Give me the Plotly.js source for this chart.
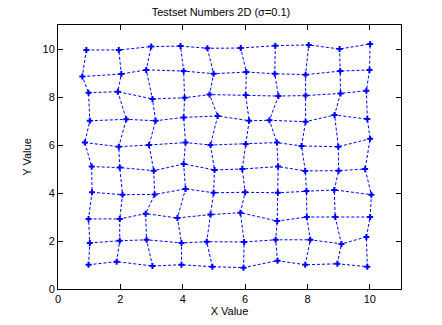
<!DOCTYPE html>
<html><head><meta charset="utf-8">
<script src="https://cdn.plot.ly/plotly-3.0.1.min.js"></script>
<style>html,body{margin:0;padding:0;background:#fff}#c{width:442px;height:325px}</style>
</head><body><div id="c"></div>
<script>
// Grid points, row by row (bottom row first), x and y coordinates
const xRows = [
  [0.98, 1.88, 3.03, 3.96, 4.95, 5.95, 7.04, 7.93, 8.96, 9.92],
  [1.02, 1.98, 2.84, 3.96, 4.77, 5.97, 6.98, 8.09, 9.09, 9.89],
  [0.98, 1.98, 2.81, 3.83, 4.89, 5.85, 7.03, 7.98, 8.89, 10.01],
  [1.09, 2.07, 3.10, 4.09, 4.99, 6.00, 7.05, 7.97, 8.86, 10.05],
  [1.08, 1.98, 3.07, 4.03, 5.02, 5.91, 7.06, 7.93, 9.00, 9.85],
  [0.86, 1.95, 2.92, 4.09, 4.89, 6.02, 7.02, 7.81, 8.99, 10.01],
  [1.02, 2.19, 3.13, 4.03, 5.12, 6.13, 6.78, 7.94, 8.87, 9.92],
  [0.98, 1.92, 3.03, 4.06, 4.86, 6.02, 7.07, 7.94, 9.06, 9.89],
  [0.78, 2.03, 2.83, 4.03, 4.99, 6.04, 6.95, 7.94, 9.05, 9.99],
  [0.91, 1.95, 2.99, 3.93, 4.79, 5.86, 6.97, 8.04, 9.03, 10.01]
];
const yRows = [
  [1.01, 1.14, 0.96, 1.01, 0.93, 0.89, 1.18, 1.01, 1.05, 0.93],
  [1.92, 2.01, 2.05, 1.92, 1.97, 1.96, 2.05, 2.05, 1.88, 2.17],
  [2.92, 2.92, 3.14, 2.96, 3.10, 3.18, 2.83, 3.00, 3.00, 3.00],
  [4.03, 3.93, 3.94, 4.17, 4.01, 4.03, 4.01, 4.08, 4.13, 3.93],
  [5.10, 5.06, 4.93, 5.21, 4.96, 5.00, 5.10, 4.92, 4.93, 5.00],
  [6.10, 5.93, 6.00, 6.10, 6.00, 6.04, 6.10, 5.96, 5.93, 6.26],
  [7.01, 7.07, 7.01, 7.15, 7.21, 7.01, 7.03, 6.97, 7.25, 7.08],
  [8.18, 8.22, 7.92, 7.97, 8.10, 8.08, 8.04, 8.06, 8.15, 8.26],
  [8.85, 8.96, 9.13, 9.08, 8.97, 9.04, 8.97, 8.93, 9.08, 9.13],
  [9.96, 9.96, 10.10, 10.12, 10.03, 10.04, 10.14, 10.17, 10.00, 10.21]
];
const xTicks = [0, 2, 4, 6, 8, 10];
const yTicks = [0, 2, 4, 6, 8, 10];

// build polylines: rows then columns, separated by nulls
const lx = [], ly = [];
for (let i = 0; i < xRows.length; i++) {
  for (let j = 0; j < xRows[i].length; j++) { lx.push(xRows[i][j]); ly.push(yRows[i][j]); }
  lx.push(null); ly.push(null);
}
for (let j = 0; j < xRows[0].length; j++) {
  for (let i = 0; i < xRows.length; i++) { lx.push(xRows[i][j]); ly.push(yRows[i][j]); }
  lx.push(null); ly.push(null);
}
const px = [].concat(...xRows), py = [].concat(...yRows);

const traces = [
  {x: lx, y: ly, mode: 'lines', connectgaps: false, line: {color: '#0000ff', width: 1, dash: '3px,2px'}, hoverinfo: 'skip'},
  {x: px, y: py, mode: 'markers', marker: {color: '#0000ff', size: 5, symbol: 'cross', line: {width: 0}}}
];
const font = {family: 'Liberation Sans, Arial, sans-serif', size: 11, color: '#000'};
const axBase = {showgrid: false, zeroline: false, showline: true, mirror: 'ticks', linecolor: '#000', linewidth: 1,
  ticks: 'inside', ticklen: 5, tickcolor: '#000', tickfont: font};
const layout = {
  width: 442, height: 325, showlegend: false,
  paper_bgcolor: '#fff', plot_bgcolor: '#fff',
  margin: {l: 58, r: 41, t: 25, b: 36},
  title: {text: 'Testset Numbers 2D (σ=0.1)', font: {family: font.family, size: 11, color: '#000'}, x: 0.5, xanchor: 'center', y: 0.963, yanchor: 'middle'},
  xaxis: Object.assign({}, axBase, {range: [0, 11], tickvals: xTicks, ticktext: xTicks.map(String),
    title: {text: 'X Value', font: font, standoff: 3}}),
  yaxis: Object.assign({}, axBase, {range: [0, 11], tickvals: yTicks, ticktext: yTicks.map(String),
    title: {text: 'Y Value', font: font, standoff: 8}})
};
Plotly.newPlot('c', traces, layout, {displayModeBar: false, staticPlot: true});
</script></body></html>
